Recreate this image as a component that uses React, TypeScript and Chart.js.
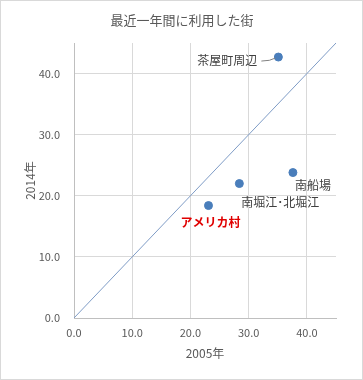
import React, { useEffect, useRef } from "react";
import { Chart, registerables } from "chart.js";

Chart.register(...registerables);

const chartTitle = "最近一年間に利用した街";
const xAxisTitle = "2005年";
const yAxisTitle = "2014年";

const placeNames = ["茶屋町周辺", "南船場", "南堀江･北堀江", "アメリカ村"];
const x2005 = [35.1, 37.6, 28.4, 23.1];
const y2014 = [42.7, 23.8, 22.0, 18.4];
const diagonalX = [0, 45];
const diagonalY = [0, 45];
const tickValues = [0, 10, 20, 30, 40];

const FONT = '"Noto Sans CJK JP", "Noto Sans", sans-serif';

// label styling: [dx, dy, align, color, bold]
const labelStyles: [number, number, CanvasTextAlign, string, boolean][] = [
  [-21, 3, "right", "#404040", false],
  [2, 13, "left", "#404040", false],
  [2, 19, "left", "#404040", false],
  [-28, 17, "left", "#e00000", true],
];

const labelPlugin = {
  id: "pointLabels",
  afterDatasetsDraw(chart: any) {
    const meta = chart.getDatasetMeta(1);
    const ctx = chart.ctx;
    ctx.save();
    meta.data.forEach((pt: any, i: number) => {
      const [dx, dy, align, color, bold] = labelStyles[i];
      ctx.font = `${bold ? "bold " : ""}12px ${FONT}`;
      ctx.fillStyle = color;
      ctx.textAlign = align;
      ctx.textBaseline = "middle";
      ctx.fillText(placeNames[i], pt.x + dx, pt.y + dy);
      if (i === 0) {
        ctx.strokeStyle = "#808080";
        ctx.lineWidth = 1;
        ctx.beginPath();
        ctx.moveTo(pt.x + dx + 4, pt.y + 4);
        ctx.quadraticCurveTo(pt.x - 8, pt.y + 4, pt.x - 3, pt.y + 1);
        ctx.stroke();
      }
    });
    // chart title centred on the whole canvas
    ctx.font = `13px ${FONT}`;
    ctx.fillStyle = "#595959";
    ctx.textAlign = "center";
    ctx.textBaseline = "middle";
    ctx.fillText(chartTitle, chart.width / 2 + 0.5, 19);
    ctx.restore();
  },
};

export default function App() {
  const ref = useRef<HTMLCanvasElement | null>(null);
  useEffect(() => {
    if (!ref.current) return;
    const chart = new Chart(ref.current, {
      type: "scatter",
      data: {
        datasets: [
          {
            type: "line",
            label: "diag",
            data: diagonalX.map((x, i) => ({ x, y: diagonalY[i] })),
            borderColor: "#7f9cc6",
            borderWidth: 1,
            pointRadius: 0,
            fill: false,
          } as any,
          {
            label: "points",
            data: x2005.map((x, i) => ({ x, y: y2014[i] })),
            backgroundColor: "#4a7ebb",
            borderColor: "#4a7ebb",
            pointRadius: 4,
            pointHoverRadius: 4,
          },
        ],
      },
      options: {
        responsive: false,
        animation: false,
        layout: { padding: { left: 0, right: 26, top: 42, bottom: 0 } },
        plugins: {
          legend: { display: false },
          tooltip: { enabled: false },
          title: { display: false },
        },
        scales: {
          x: {
            type: "linear",
            min: 0,
            max: 45,
            afterBuildTicks: (s: any) => {
              s.ticks = tickValues.map((v) => ({ value: v }));
            },
            afterFit: (s: any) => {
              s.height = 61;
            },
            grid: { color: "#d9d9d9", drawTicks: false },
            border: { color: "#bfbfbf" },
            ticks: {
              padding: 8,
              color: "#595959",
              font: { family: FONT, size: 11 },
              callback: (v: any) => Number(v).toFixed(1),
            },
            title: {
              display: true,
              text: xAxisTitle,
              color: "#595959",
              font: { family: FONT, size: 12 },
              padding: { top: 0, bottom: 18 },
            },
          },
          y: {
            type: "linear",
            min: 0,
            max: 45,
            afterBuildTicks: (s: any) => {
              s.ticks = tickValues.map((v) => ({ value: v }));
            },
            afterFit: (s: any) => {
              s.width = 73;
            },
            grid: { color: "#d9d9d9", drawTicks: false },
            border: { color: "#bfbfbf" },
            ticks: {
              padding: 14,
              color: "#595959",
              font: { family: FONT, size: 11 },
              callback: (v: any) => Number(v).toFixed(1),
            },
            title: {
              display: true,
              text: yAxisTitle,
              color: "#595959",
              font: { family: FONT, size: 12 },
              padding: { top: 22, bottom: 0 },
            },
          },
        },
      },
      plugins: [labelPlugin],
    });
    return () => chart.destroy();
  }, []);
  return (
    <div
      style={{
        position: "absolute",
        left: 0,
        top: 0,
        width: 363,
        height: 380,
        border: "1px solid #d9d9d9",
        boxSizing: "border-box",
        background: "#fff",
      }}
    >
      <canvas ref={ref} width={361} height={378} style={{ display: "block" }} />
    </div>
  );
}
